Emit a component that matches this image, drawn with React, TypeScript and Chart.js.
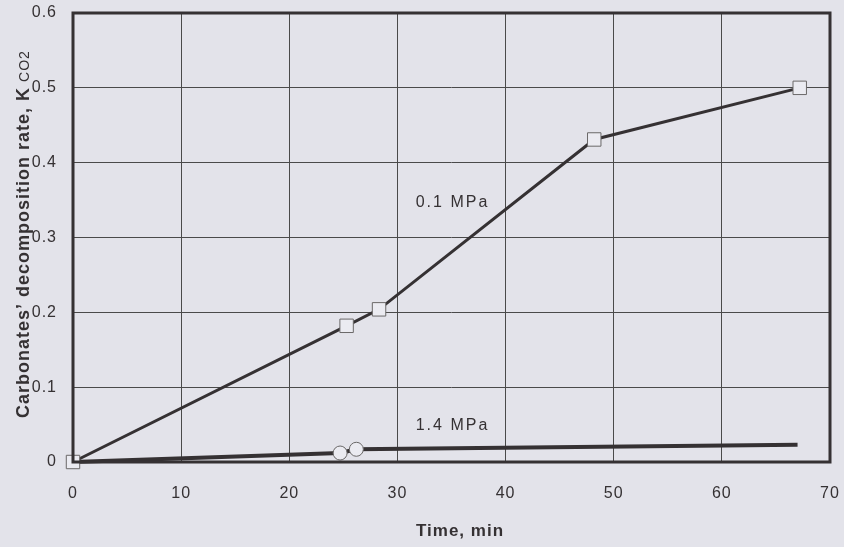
import React, { useEffect, useRef } from "react";
import { Chart, registerables } from "chart.js";

Chart.register(...registerables);

const timeLow = [0, 25.3, 28.3, 48.2, 67.2];
const rateLow = [0, 0.182, 0.204, 0.431, 0.5];
const timeHigh = [0, 24.7, 26.2, 67.0];
const rateHigh = [0, 0.012, 0.017, 0.023];
const highRadius = [0, 7, 7, 0];
const xTicks = [0, 10, 20, 30, 40, 50, 60, 70];
const yTicks = [0, 0.1, 0.2, 0.3, 0.4, 0.5, 0.6];
const seriesLabels = [
  { text: "0.1 MPa", x: 35, y: 0.346 },
  { text: "1.4 MPa", x: 35, y: 0.049 },
];

const BG = "#e3e3ea";
const INK = "#353133";
const FONT = "'Liberation Sans', Arial, sans-serif";

const decorPlugin = {
  id: "decor",
  beforeDraw(chart: any) {
    const ctx = chart.ctx;
    ctx.save();
    ctx.fillStyle = BG;
    ctx.fillRect(0, 0, chart.width, chart.height);
    ctx.restore();
    (ctx as any).letterSpacing = "1px";
  },
  afterDatasetsDraw(chart: any) {
    const ctx = chart.ctx;
    const { left, right, top, bottom } = chart.chartArea;
    const xs = chart.scales.x;
    const ys = chart.scales.y;
    ctx.save();
    ctx.strokeStyle = INK;
    ctx.lineWidth = 3;
    ctx.strokeRect(left, top, right - left, bottom - top);
    ctx.fillStyle = INK;
    ctx.font = `16px ${FONT}`;
    (ctx as any).letterSpacing = "2px";
    ctx.textAlign = "center";
    ctx.textBaseline = "middle";
    for (const l of seriesLabels) {
      ctx.fillText(l.text, xs.getPixelForValue(l.x) + 1, ys.getPixelForValue(l.y));
    }
    (ctx as any).letterSpacing = "1px";
    ctx.font = `bold 17px ${FONT}`;
    ctx.fillText("Time, min", 460, 531);
    ctx.translate(24, 418);
    ctx.rotate(-Math.PI / 2);
    ctx.textAlign = "left";
    ctx.font = `bold 18px ${FONT}`;
    const main = "Carbonates\u2019 decomposition rate, K";
    ctx.fillText(main, 0, 0);
    const w = ctx.measureText(main).width;
    ctx.font = `14px ${FONT}`;
    ctx.fillText("CO2", w + 5, 1);
    ctx.restore();
    (ctx as any).letterSpacing = "1px";
  },
};

export default function App() {
  const ref = useRef<HTMLCanvasElement | null>(null);
  useEffect(() => {
    document.body.style.margin = "0";
    document.body.style.background = BG;
    const canvas = ref.current!;
    const chart = new Chart(canvas, {
      type: "line",
      data: {
        datasets: [
          {
            label: "0.1 MPa",
            data: timeLow.map((t, i) => ({ x: t, y: rateLow[i] })),
            borderColor: INK,
            borderWidth: 3,
            pointStyle: "rect",
            pointRadius: 9.5,
            pointBackgroundColor: "#ebebf1",
            pointBorderColor: "#6a6868",
            pointBorderWidth: 1,
            tension: 0,
            clip: false,
          },
          {
            label: "1.4 MPa",
            data: timeHigh.map((t, i) => ({ x: t, y: rateHigh[i] })),
            borderColor: INK,
            borderWidth: 4,
            pointStyle: "circle",
            pointRadius: highRadius,
            pointBackgroundColor: "#ebebf1",
            pointBorderColor: "#6a6868",
            pointBorderWidth: 1,
            tension: 0,
            clip: false,
          },
        ],
      },
      options: {
        animation: false,
        responsive: false,
        maintainAspectRatio: false,
        layout: { padding: { top: 13, right: 14, left: 0, bottom: 0 } },
        plugins: { legend: { display: false }, tooltip: { enabled: false } },
        scales: {
          x: {
            type: "linear",
            min: 0,
            max: 70,
            afterFit(scale: any) {
              scale.height = 85;
              scale.paddingLeft = 0;
              scale.paddingRight = 0;
            },
            afterBuildTicks(scale: any) {
              scale.ticks = xTicks.map((v) => ({ value: v }));
            },
            ticks: {
              color: INK,
              font: { family: FONT, size: 16 },
              padding: 22,
              maxRotation: 0,
              callback: (v: any) => String(v),
            },
            grid: { color: "#4a4a4a", lineWidth: 1, drawTicks: false },
            border: { display: false },
          },
          y: {
            min: 0,
            max: 0.6,
            afterFit(scale: any) {
              scale.width = 73;
              scale.paddingTop = 0;
              scale.paddingBottom = 0;
            },
            afterBuildTicks(scale: any) {
              scale.ticks = yTicks.map((v) => ({ value: v }));
            },
            ticks: {
              color: INK,
              font: { family: FONT, size: 16 },
              padding: 16,
              callback: (v: any) => (v === 0 ? "0" : Number(v).toFixed(1)),
            },
            grid: { color: "#4a4a4a", lineWidth: 1, drawTicks: false },
            border: { display: false },
          },
        },
      },
      plugins: [decorPlugin],
    });
    return () => chart.destroy();
  }, []);
  return <canvas ref={ref} width={844} height={547} style={{ display: "block" }} />;
}
